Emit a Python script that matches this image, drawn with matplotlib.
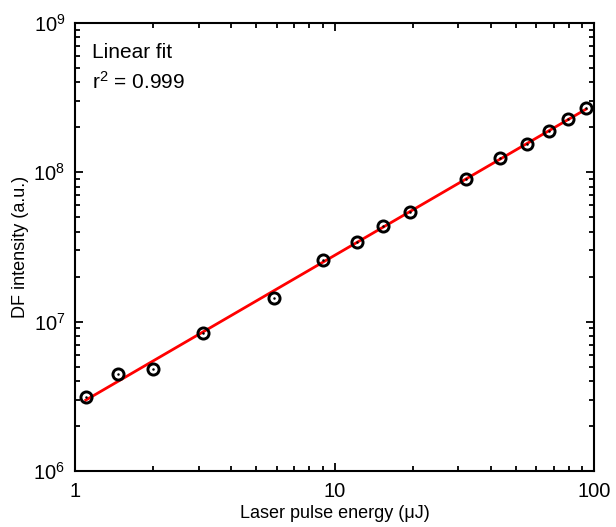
import numpy as np
import matplotlib
matplotlib.use("Agg")
import matplotlib.pyplot as plt
from matplotlib.ticker import LogLocator, NullFormatter, FixedLocator

plt.rcParams['font.family'] = ['Liberation Sans', 'DejaVu Sans']
plt.rcParams['mathtext.default'] = 'regular'

energy_uJ = [1.10, 1.46, 1.99, 3.10, 5.83, 9.01, 12.2, 15.4, 19.5, 32.0, 43.4, 55.0, 67.1, 79.6, 93.2]
df_intensity = [3.12e6, 4.44e6, 4.84e6, 8.45e6, 1.43e7, 2.58e7, 3.42e7, 4.38e7, 5.43e7,
                8.99e7, 1.24e8, 1.55e8, 1.89e8, 2.27e8, 2.70e8]
x_ticks = [1, 10, 100]
x_tick_labels = ['1', '10', '100']
y_ticks = [1e6, 1e7, 1e8, 1e9]
y_tick_labels = [r'$10^{6}$', r'$10^{7}$', r'$10^{8}$', r'$10^{9}$']

x = np.array(energy_uJ)
y = np.array(df_intensity)
p = np.polyfit(np.log10(x), np.log10(y), 1)
xf = np.array([x.min(), x.max()])
yf = 10 ** np.polyval(p, np.log10(xf))

fig = plt.figure(figsize=(6.16, 5.27), dpi=100)
ax = fig.add_axes([75/616, 1-471/527, (594-75)/616, (471-23)/527])
ax.set_xscale('log')
ax.set_yscale('log')
ax.set_xlim(1, 100)
ax.set_ylim(1e6, 1e9)

ax.plot(xf, yf, color='#ff0000', lw=2.0, zorder=2)
ax.plot(x, y, linestyle='none', marker='o', ms=8, mfc='none', mec='black', mew=2.1, zorder=3)
ax.plot(x, y, linestyle='none', marker='o', ms=1.8, mfc='black', mec='black', mew=0, zorder=4)

ax.xaxis.set_major_locator(FixedLocator(x_ticks))
ax.set_xticklabels(x_tick_labels)
ax.yaxis.set_major_locator(FixedLocator(y_ticks))
ax.set_yticklabels(y_tick_labels)
ax.xaxis.set_minor_locator(LogLocator(base=10, subs=np.arange(2, 10)))
ax.yaxis.set_minor_locator(LogLocator(base=10, subs=np.arange(2, 10)))
ax.xaxis.set_minor_formatter(NullFormatter())
ax.yaxis.set_minor_formatter(NullFormatter())

ax.tick_params(which='both', direction='in', top=True, right=True, labelsize=14.5, width=1.3, color='black')
ax.tick_params(which='major', length=6)
ax.tick_params(which='minor', length=3.5)
ax.tick_params(axis='x', which='major', pad=8)
ax.tick_params(axis='y', which='major', pad=7)
for s in ax.spines.values():
    s.set_linewidth(1.5)

ax.set_xlabel('Laser pulse energy (\u03bcJ)', fontsize=13, labelpad=3)
ax.set_ylabel('DF intensity (a.u.)', fontsize=13, labelpad=3)

ax.text(0.033, 0.935, 'Linear fit', transform=ax.transAxes, fontsize=15, va='center')
ax.text(0.033, 0.868, r'r$^{2}$ = 0.999', transform=ax.transAxes, fontsize=15, va='center')

fig.savefig('out.png', dpi=100, facecolor='white')
